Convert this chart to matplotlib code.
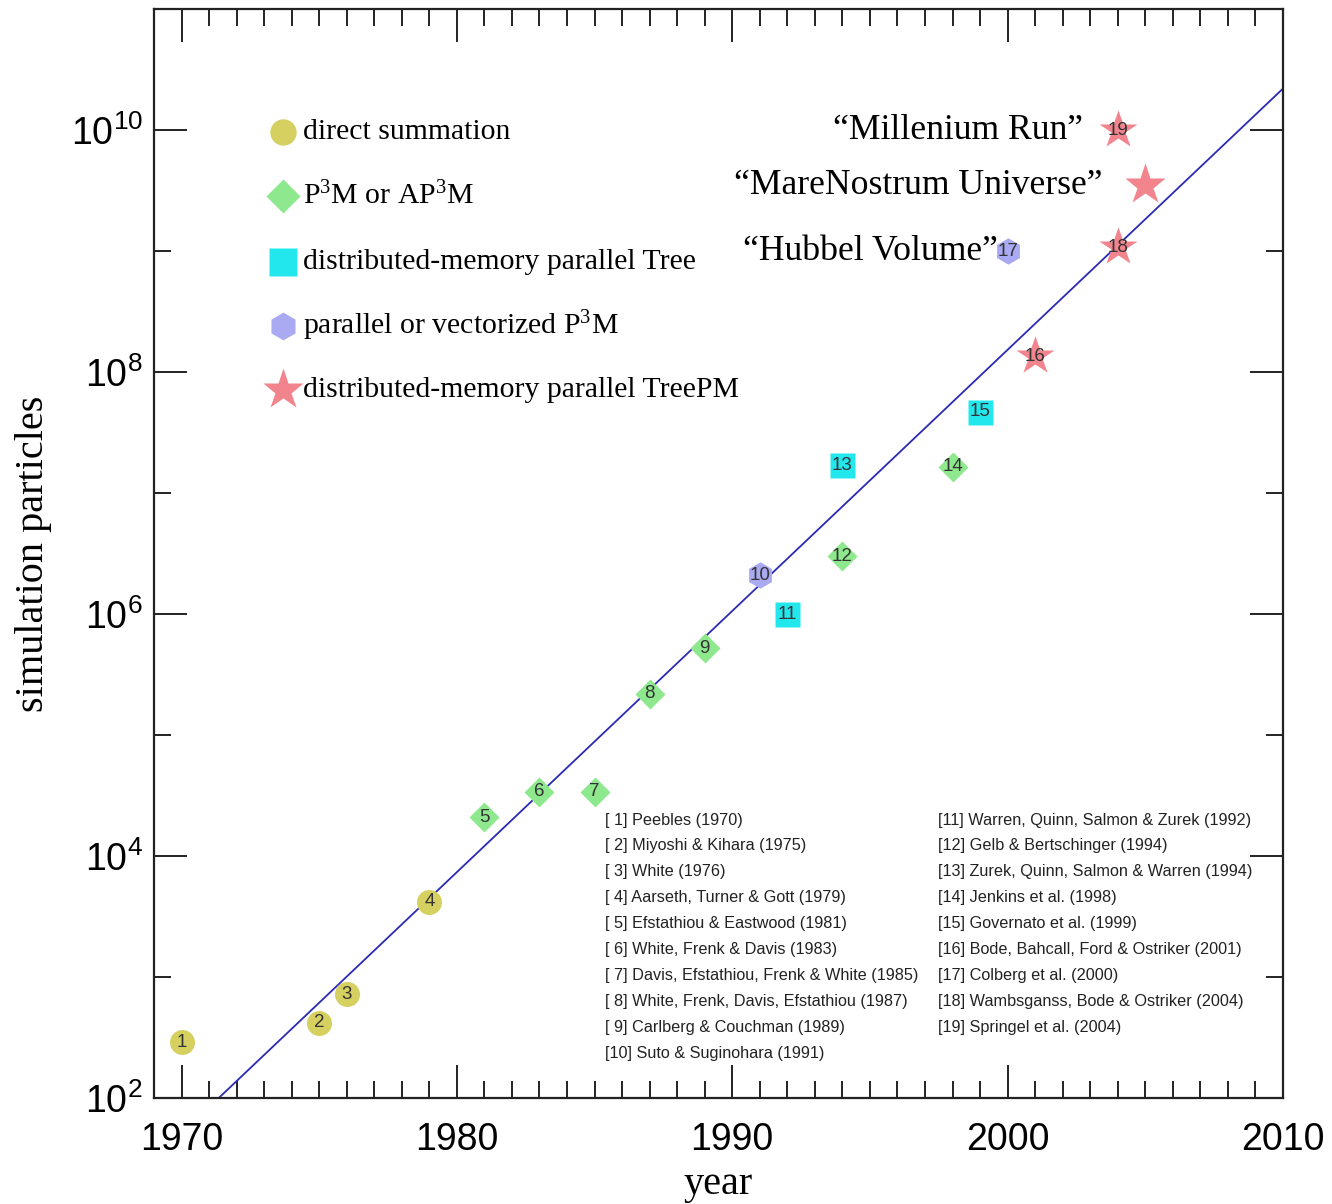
import matplotlib
matplotlib.use('Agg')
import matplotlib.pyplot as plt
import numpy as np

plt.rcParams['font.family'] = ['Liberation Sans', 'DejaVu Sans']

# simulation data: [n] label, year, particle count, method
sim_ids = ['1', '2', '3', '4', '5', '6', '7', '8', '9', '10',
           '11', '12', '13', '14', '15', '16', '17', '18', '19']
sim_years = [1970, 1975, 1976, 1979, 1981, 1983, 1985, 1987, 1989, 1991,
             1992, 1994, 1994, 1998, 1999, 2001, 2000, 2004, 2004]
sim_particles = [290, 420, 720, 4200, 2.1e4, 3.4e4, 3.4e4, 2.2e5, 5.2e5, 2.1e6,
                 1.0e6, 3.0e6, 1.7e7, 1.65e7, 4.7e7, 1.35e8, 1.0e9, 1.07e9, 1.0e10]
sim_methods = ['direct', 'direct', 'direct', 'direct', 'p3m', 'p3m', 'p3m', 'p3m', 'p3m', 'vec',
               'tree', 'p3m', 'tree', 'p3m', 'tree', 'treepm', 'vec', 'treepm', 'treepm']

# MareNostrum run (no reference number)
mare_year = 2005
mare_particles = 3.5e9

# trend line end points
fit_years = [1971.35, 2010]
fit_particles = [1e2, 2.2e10]

method_keys = ['direct', 'p3m', 'tree', 'vec', 'treepm']
method_labels = ['direct summation', r'P$\mathregular{^3}$M or AP$\mathregular{^3}$M',
                 'distributed-memory parallel Tree',
                 r'parallel or vectorized P$\mathregular{^3}$M', 'distributed-memory parallel TreePM']

named_runs = ['\u201cMillenium Run\u201d', '\u201cMareNostrum Universe\u201d', '\u201cHubbel Volume\u201d']
named_years = [2002.75, 2003.45, 1999.65]
named_particles = [1.0e10, 3.5e9, 1.0e9]

refs_left = ['[ 1] Peebles (1970)', '[ 2] Miyoshi & Kihara (1975)', '[ 3] White (1976)',
             '[ 4] Aarseth, Turner & Gott (1979)', '[ 5] Efstathiou & Eastwood (1981)',
             '[ 6] White, Frenk & Davis (1983)', '[ 7] Davis, Efstathiou, Frenk & White (1985)',
             '[ 8] White, Frenk, Davis, Efstathiou (1987)', '[ 9] Carlberg & Couchman (1989)',
             '[10] Suto & Suginohara (1991)']
refs_right = ['[11] Warren, Quinn, Salmon & Zurek (1992)', '[12] Gelb & Bertschinger (1994)',
              '[13] Zurek, Quinn, Salmon & Warren (1994)', '[14] Jenkins et al. (1998)',
              '[15] Governato et al. (1999)', '[16] Bode, Bahcall, Ford & Ostriker (2001)',
              '[17] Colberg et al. (2000)', '[18] Wambsganss, Bode & Ostriker (2004)',
              '[19] Springel et al. (2004)']

# marker styles per method: (marker, color, size in plot, size in legend)
STYLE = {
    'direct': ('o', '#d6d060', 18, 19),
    'p3m':    ('D', '#8ee88e', 15, 17),
    'tree':   ('s', '#22e8ee', 18, 20),
    'vec':    ('h', '#aaaaf2', 19, 20),
    'treepm': ('*', '#f2848e', 29, 31),
}

SERIF = ['Liberation Serif', 'DejaVu Serif']

fig = plt.figure(figsize=(13.32, 12.04), dpi=100, facecolor='white')
ax = fig.add_axes([0.1156, 0.088, 0.8476, 0.9045])
ax.set_yscale('log')
ax.set_xlim(1969, 2010)
ax.set_ylim(1e2, 1e11)

# trend line
ax.plot(fit_years, fit_particles, color='#2a2ab4', lw=1.3, zorder=2)

# data points with their reference numbers
for sid, yr, n, m in zip(sim_ids, sim_years, sim_particles, sim_methods):
    mk, col, ms, _ = STYLE[m]
    ax.plot(yr, n, marker=mk, color=col, ms=ms, mec='none', ls='none', zorder=3)
    ax.text(yr, n, sid, fontsize=13.5, color='#333333', ha='center', va='center', zorder=4)

mk, col, ms, _ = STYLE['treepm']
ax.plot(mare_year, mare_particles, marker=mk, color=col, ms=ms + 2, mec='none', ls='none', zorder=3)

# named runs
for txt, yr, n in zip(named_runs, named_years, named_particles):
    ax.text(yr, n, txt, fontsize=25.7, family=SERIF, ha='right', va='center', color='black')

# legend drawn by hand
leg_y = [0.887, 0.828, 0.768, 0.709, 0.650]
for key, lab, y in zip(method_keys, method_labels, leg_y):
    mk, col, _, lms = STYLE[key]
    ax.plot(0.114, y, marker=mk, color=col, ms=lms, mec='none', ls='none',
            transform=ax.transAxes, clip_on=False)
    ax.text(0.132, y, lab, fontsize=21.4, family=SERIF, ha='left', va='center',
            transform=ax.transAxes)

# reference list
row_h = 25.9 / 1089
for i, r in enumerate(refs_left):
    ax.text(0.3995, 0.2553 - i * row_h, r, fontsize=11.7, color='#222222',
            ha='left', va='center', transform=ax.transAxes)
for i, r in enumerate(refs_right):
    ax.text(0.6944, 0.2553 - i * row_h, r, fontsize=11.7, color='#222222',
            ha='left', va='center', transform=ax.transAxes)

# ticks
ax.set_xticks([1970, 1980, 1990, 2000, 2010])
ax.set_xticks([y for y in range(1970, 2011) if y % 10 != 0], minor=True)
ax.set_yticks([1e2, 1e4, 1e6, 1e8, 1e10])
ax.set_yticks([1e3, 1e5, 1e7, 1e9], minor=True)
ax.yaxis.set_major_formatter(plt.FuncFormatter(
    lambda v, p: r'$\mathregular{10^{%d}}$' % round(np.log10(v))))
ax.yaxis.set_minor_formatter(plt.NullFormatter())

ax.tick_params(which='both', direction='in', top=True, right=True, width=1.4, color='#222222')
ax.tick_params(which='major', length=24)
ax.tick_params(which='minor', length=12)
ax.tick_params(axis='x', which='major', labelsize=27, pad=17)
ax.tick_params(axis='y', which='major', labelsize=27, pad=8)
for s in ax.spines.values():
    s.set_linewidth(1.6)
    s.set_color('#222222')

ax.set_xlabel('year', fontsize=29, family=SERIF)
ax.xaxis.set_label_coords(0.5, -0.062)
ax.set_ylabel('simulation particles', fontsize=29, family=SERIF)
ax.yaxis.set_label_coords(-0.090, 0.5)

fig.savefig('out.png', dpi=100, facecolor='white')
